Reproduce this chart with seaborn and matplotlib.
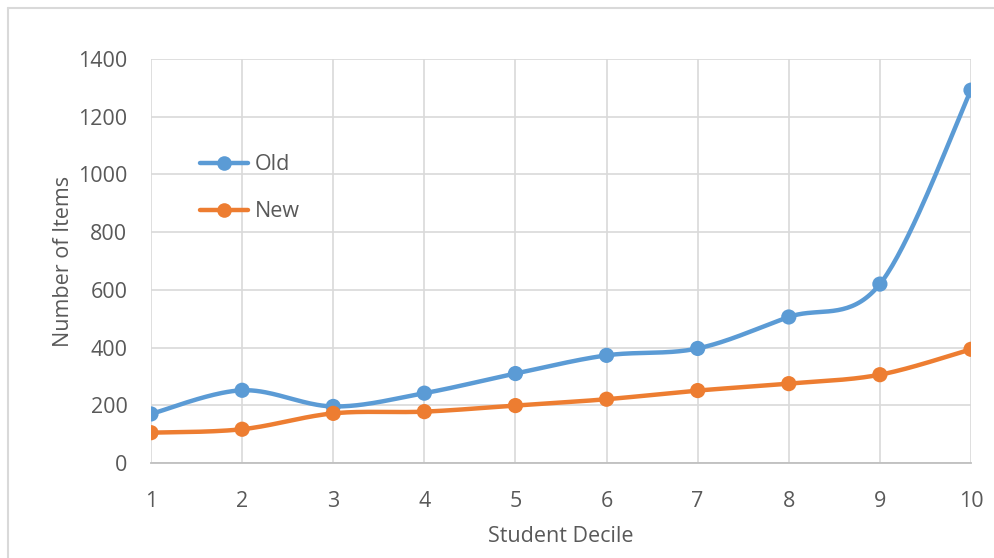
import numpy as np
import pandas as pd
import matplotlib
matplotlib.use("Agg")
import matplotlib.pyplot as plt
from matplotlib.lines import Line2D
import seaborn as sns

# Data
deciles = [1, 2, 3, 4, 5, 6, 7, 8, 9, 10]
old_items = [170, 252, 196, 242, 310, 373, 397, 506, 620, 1292]
new_items = [105, 117, 172, 178, 199, 221, 251, 275, 306, 394]
series_names = ["Old", "New"]
y_ticks = [0, 200, 400, 600, 800, 1000, 1200, 1400]

OLD_COLOR = "#5B9BD5"
NEW_COLOR = "#ED7D31"
TEXT_COLOR = "#595959"
GRID_COLOR = "#D9D9D9"


def smooth(xs, ys, n=40):
    """Catmull-Rom style Bezier smoothing through every point."""
    xs = np.asarray(xs, float)
    ys = np.asarray(ys, float)
    px = np.concatenate([[xs[0]], xs, [xs[-1]]])
    py = np.concatenate([[ys[0]], ys, [ys[-1]]])
    out_x, out_y = [], []
    t = np.linspace(0, 1, n)
    for i in range(1, len(px) - 2):
        p0 = np.array([px[i], py[i]])
        p3 = np.array([px[i + 1], py[i + 1]])
        c1 = p0 + (np.array([px[i + 1], py[i + 1]]) - np.array([px[i - 1], py[i - 1]])) / 6
        c2 = p3 - (np.array([px[i + 2], py[i + 2]]) - np.array([px[i], py[i]])) / 6
        b = ((1 - t) ** 3)[:, None] * p0 + (3 * (1 - t) ** 2 * t)[:, None] * c1 \
            + (3 * (1 - t) * t ** 2)[:, None] * c2 + (t ** 3)[:, None] * p3
        if i > 1:
            b = b[1:]
        out_x.extend(b[:, 0])
        out_y.extend(b[:, 1])
    return np.array(out_x), np.array(out_y)


points = pd.DataFrame({
    "decile": deciles * 2,
    "items": old_items + new_items,
    "series": ["Old"] * len(deciles) + ["New"] * len(deciles),
})

curves = []
for name, vals in zip(series_names, [old_items, new_items]):
    sx, sy = smooth(deciles, vals)
    curves.append(pd.DataFrame({"decile": sx, "items": sy, "series": name,
                                "order": np.arange(len(sx))}))
curves = pd.concat(curves, ignore_index=True)

sns.set_theme(style="white")
plt.rcParams["font.family"] = ["Open Sans", "DejaVu Sans"]

fig = plt.figure(figsize=(9.95, 5.58), dpi=100)
ax = fig.add_axes([151 / 995, 1 - 463 / 558, 820 / 995, 404 / 558])

palette = {"Old": OLD_COLOR, "New": NEW_COLOR}
sns.lineplot(data=curves, x="decile", y="items", hue="series", palette=palette,
             sort=False, estimator=None, units="series", linewidth=3.2,
             legend=False, ax=ax, zorder=3)
sns.scatterplot(data=points, x="decile", y="items", hue="series", palette=palette,
                s=120, edgecolor="none", legend=False, ax=ax, zorder=4)

ax.set_xlim(1, 10)
ax.set_ylim(0, 1400)
ax.set_xticks(deciles)
ax.set_xticklabels([str(d) for d in deciles])
ax.set_yticks(y_ticks)
ax.set_yticklabels([str(v) for v in y_ticks])
ax.grid(True, color=GRID_COLOR, linewidth=1.2)
ax.set_axisbelow(True)
for side in ["top", "right", "left"]:
    ax.spines[side].set_visible(False)
ax.spines["bottom"].set_color("#BFBFBF")
ax.spines["bottom"].set_linewidth(1.3)
ax.tick_params(axis="both", length=0, labelsize=15.5, colors=TEXT_COLOR)
ax.tick_params(axis="x", pad=20)
ax.tick_params(axis="y", pad=17)

ax.set_xlabel("Student Decile", fontsize=15.5, color=TEXT_COLOR, labelpad=10)
ax.set_ylabel("Number of Items", fontsize=15.5, color=TEXT_COLOR, labelpad=3)

handles = [Line2D([0], [0], color=palette[n], linewidth=3.2, marker="o",
                  markersize=10.5, markeredgewidth=0) for n in series_names]
ax.legend(handles, series_names, loc="upper left", bbox_to_anchor=(0.036, 0.812),
          frameon=False, fontsize=15.5, handlelength=2.25, handletextpad=0.3,
          labelspacing=1.2, labelcolor=TEXT_COLOR)

# Outer chart frame (left and top edges)
fig.add_artist(Line2D([8 / 995, 8 / 995], [0, 1 - 8 / 558], color="#D9D9D9",
                      linewidth=1.5, transform=fig.transFigure))
fig.add_artist(Line2D([8 / 995, 1], [1 - 8 / 558, 1 - 8 / 558], color="#D9D9D9",
                      linewidth=1.5, transform=fig.transFigure))

fig.savefig("out.png", dpi=100)
